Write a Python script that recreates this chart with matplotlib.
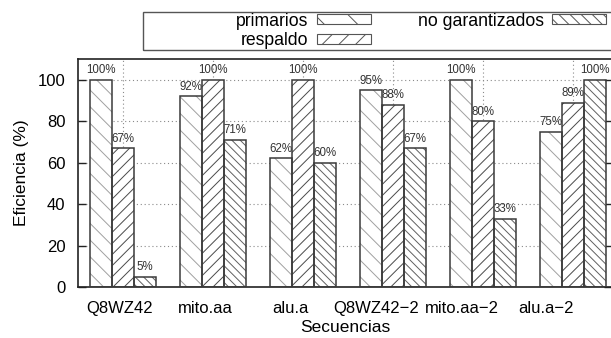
import matplotlib
matplotlib.use("Agg")
import matplotlib.pyplot as plt
from matplotlib.patches import Rectangle, Patch
import numpy as np

plt.rcParams['font.family'] = ['Liberation Sans', 'DejaVu Sans']
plt.rcParams['hatch.linewidth'] = 0.7

categories = ["Q8WZ42", "mito.aa", "alu.a", "Q8WZ42\u22122", "mito.aa\u22122", "alu.a\u22122"]
primarios = [100, 92, 62, 95, 100, 75]
respaldo = [67, 100, 100, 88, 80, 89]
no_garantizados = [5, 71, 60, 67, 33, 100]

series = [
    ("primarios", primarios, "\\\\", "#a0a0a0"),
    ("respaldo", respaldo, "///", "#4a4a4a"),
    ("no garantizados", no_garantizados, "\\\\\\\\", "#606060"),
]

W, H = 611, 338
fig = plt.figure(figsize=(W / 100, H / 100), dpi=100)
ax = fig.add_axes([78 / W, 1 - 287 / H, (612 - 78) / W, (287 - 59) / H])

x = np.arange(len(categories))
bw = 0.236
offsets = [-0.245, 0.0, 0.245]

for (name, vals, hatch, hcol), off in zip(series, offsets):
    # hatched fill first, then a crisp outline on top
    ax.bar(x + off, vals, bw, color="white", edgecolor=hcol, hatch=hatch,
           linewidth=0, zorder=2)
    ax.bar(x + off, vals, bw, fill=False, edgecolor="#3a3a3a",
           linewidth=1.1, zorder=3)
    for xi, v in zip(x + off, vals):
        ax.annotate(f"{v}%", (xi, v), xytext=(0, 2.5), textcoords="offset points",
                    ha="center", va="bottom", fontsize=8.3, color="#333333", zorder=4)

ax.set_xlim(-0.5, 5.433)
ax.set_ylim(0, 110)

# dotted grid behind bars
for yv in [20, 40, 60, 80, 100]:
    ax.axhline(yv, color="#8a8a8a", lw=0.8, ls=(0, (1, 2.5)), zorder=1)
for xv in x:
    ax.axvline(xv, color="#8a8a8a", lw=0.8, ls=(0, (1, 2.5)), zorder=1)

label_pos = [-0.033, 0.911, 1.856, 2.811, 3.767, 4.70]
ax.set_xticks(label_pos)
ax.set_xticklabels(categories, fontsize=12)
ax.tick_params(axis="x", length=0, pad=10)

ax.set_yticks([0, 20, 40, 60, 80, 100])
ax.tick_params(axis="y", direction="in", length=6, width=1, labelsize=12,
               pad=9, right=True, color="#222222")

for s in ax.spines.values():
    s.set_linewidth(1.2)
    s.set_color("#222222")

ax.set_xlabel("Secuencias", fontsize=12.5, labelpad=3)
ax.set_ylabel("Eficiencia (%)", fontsize=12.5, labelpad=6)

# legend box
fig.patches.append(Rectangle((143 / W, 1 - 50 / H), (620 - 143) / W, 38 / H,
                             transform=fig.transFigure, fill=False,
                             edgecolor="#555555", lw=1.0))
legend_hatches = ["\\", "//", "\\\\\\"]
handles = [Patch(facecolor="white", edgecolor="#555555", hatch=ht, linewidth=0.8)
           for ht in legend_hatches]
leg = fig.legend(handles, [s[0] for s in series],
                 loc="upper right", bbox_to_anchor=(606 / W, 1 - 12.5 / H),
                 ncol=2, frameon=False, markerfirst=False, fontsize=12.7,
                 handlelength=3.07, handleheight=0.5, handletextpad=0.45,
                 columnspacing=2.67, labelspacing=0.14, borderpad=0,
                 borderaxespad=0)

fig.savefig("out.png", dpi=100)
